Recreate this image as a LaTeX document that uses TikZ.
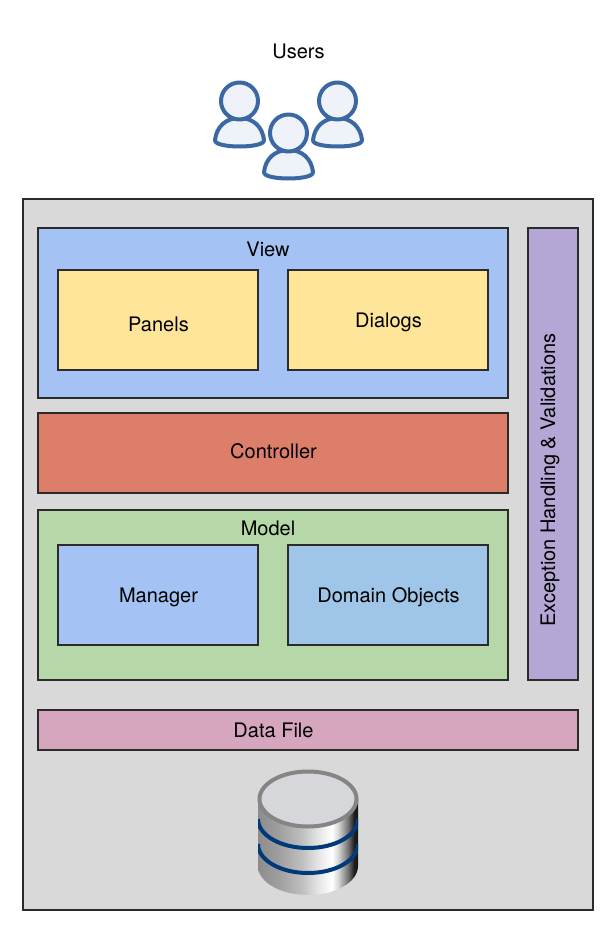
\documentclass[tikz,border=0pt]{standalone}
\usepackage{fontspec}
\setmainfont{TeX Gyre Heros}
\definecolor{panelc}{HTML}{D9D9D9}
\definecolor{viewc}{HTML}{A4C2F4}
\definecolor{yellowc}{HTML}{FFE599}
\definecolor{ctrlc}{HTML}{DD7E6B}
\definecolor{modelc}{HTML}{B6D7A8}
\definecolor{domainc}{HTML}{9FC5E8}
\definecolor{excc}{HTML}{B4A7D6}
\definecolor{filec}{HTML}{D5A6BD}
\definecolor{edgec}{HTML}{2B2B2B}
\definecolor{personline}{HTML}{3A68A3}
\definecolor{personfill}{HTML}{EFF3F9}
\definecolor{bandc}{HTML}{003A78}
\definecolor{dbrim}{HTML}{858585}
\definecolor{dbtop}{HTML}{D5D7DA}
\pgfdeclarehorizontalshading{dbshade}{100bp}{
  color(0bp)=(black!45!white);
  color(25bp)=(black!45!white);
  color(35bp)=(black!38!white);
  color(47bp)=(black!25!white);
  color(55bp)=(black!10!white);
  color(62bp)=(white);
  color(65bp)=(black!15!white);
  color(70bp)=(black!55!white);
  color(73bp)=(black!88!white);
  color(75bp)=(black!92!white);
  color(100bp)=(black!92!white)}
\tikzset{
  x=0.75pt,y=-0.75pt,
  boxnode/.style={draw=edgec,line width=1.5pt,inner sep=0pt,outer sep=0pt,anchor=north west},
  txt/.style={font=\fontsize{15}{18}\selectfont,inner sep=0pt,text height=10.8pt,text depth=0pt,text=black},
  personstroke/.style={draw=personline,fill=personfill,line width=3pt,line join=round},
  person/.pic={
    \path[personstroke] (-24.5,39) .. controls (-23,26) and (-14,17) .. (0,17)
      .. controls (14,17) and (23,26) .. (24.5,39)
      .. controls (25,44) and (10,45.5) .. (0,45.5)
      .. controls (-10,45.5) and (-25,44) .. (-24.5,39) -- cycle;
    \path[personstroke] (0,0) circle [radius=18.5];
  },
  band/.style={draw=bandc,line width=3pt}
}
\newcommand{\boxat}[6]{\node[boxnode,fill=#1,minimum width=#4*0.75pt,minimum height=#5*0.75pt] (#6) at (#2,#3) {};}
\begin{document}
\begin{tikzpicture}
\useasboundingbox (0,0) rectangle (613,930);
\boxat{panelc}{23}{199}{570}{711}{outer}
\boxat{viewc}{38}{228}{470}{170}{view}
\boxat{yellowc}{58}{270}{200}{100}{panels}
\boxat{yellowc}{288}{270}{200}{100}{dialogs}
\boxat{ctrlc}{38}{413}{470}{80}{controller}
\boxat{modelc}{38}{510}{470}{170}{model}
\boxat{viewc}{58}{545}{200}{100}{manager}
\boxat{domainc}{288}{545}{200}{100}{domain}
\boxat{excc}{528}{228}{50}{452}{exception}
\boxat{filec}{38}{710}{540}{40}{datafile}

\node[txt] (lusers) at (298.5,51) {Users};
\node[txt] (lview) at (268,249) {View};
\node[txt] (lpanels) at (158.5,324) {Panels};
\node[txt] (ldialogs) at (388.5,320) {Dialogs};
\node[txt] (lcontroller) at (273.5,451) {Controller};
\node[txt] (lmodel) at (268,528) {Model};
\node[txt] (lmanager) at (158.5,595) {Manager};
\node[txt] (ldomain) at (388.5,595) {Domain Objects};
\node[txt,rotate=90] (lexception) at (548,480) {Exception Handling \& Validations};
\node[txt] (lfile) at (273.5,730) {Data File};

\pic at (239.5,101) {person};
\pic at (337.5,101) {person};
\pic at (288.5,133) {person};

% database
\begin{scope}
\clip (258,799) -- (258,866) arc[start angle=180,end angle=360,x radius=50,y radius=-29] -- (358,799) arc[start angle=0,end angle=180,x radius=50,y radius=-29] -- cycle;
\path[shading=dbshade] (258,799) -- (258,866) arc[start angle=180,end angle=360,x radius=50,y radius=-29] -- (358,799) arc[start angle=0,end angle=180,x radius=50,y radius=-29] -- cycle;
\draw[band] (258,819) arc[start angle=180,end angle=360,x radius=50,y radius=-29];
\draw[band] (258,844) arc[start angle=180,end angle=360,x radius=50,y radius=-29];
\end{scope}
\draw[dbrim,fill=dbtop,line width=3pt] (308,799) ellipse [x radius=48.5,y radius=27.5];
\end{tikzpicture}
\end{document}
